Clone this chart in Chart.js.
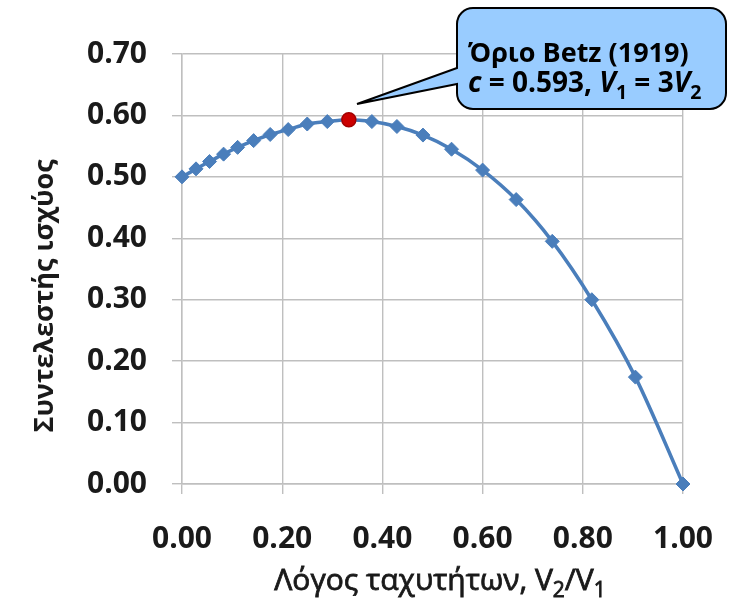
<!DOCTYPE html>
<html>
<head>
<meta charset="utf-8">
<script src="https://cdn.jsdelivr.net/npm/chart.js@4/dist/chart.umd.min.js"></script>
<style>
  body { margin: 0; background: #fff; }
  #wrap { width: 731px; height: 598px; position: relative; }
</style>
</head>
<body>
<div id="wrap"><canvas id="chart"></canvas></div>
<script>
// speed ratio V2/V1 and power coefficient
var ratio = [0, 0.028, 0.055, 0.083, 0.111, 0.143, 0.176, 0.212, 0.25, 0.29, 0.333,
             0.379, 0.429, 0.481, 0.538, 0.6, 0.667, 0.739, 0.818, 0.905, 1.0];
var power = [0.500, 0.513, 0.525, 0.537, 0.548, 0.559, 0.569, 0.577, 0.586, 0.590, 0.593,
             0.590, 0.582, 0.568, 0.545, 0.511, 0.463, 0.395, 0.300, 0.174, 0.000];
var betzX = [0.333];
var betzY = [0.593];
var xTicks = [0, 0.2, 0.4, 0.6, 0.8, 1.0];
var yTicks = [0, 0.1, 0.2, 0.3, 0.4, 0.5, 0.6, 0.7];

var FONT = '"Open Sans", "Noto Sans", sans-serif';
var GRID = '#bfbfbf';

function toPoints(xs, ys) {
    var out = [];
    for (var i = 0; i < xs.length; i++) out.push({x: xs[i], y: ys[i]});
    return out;
}

// draw a run list like [{t:'V', i:true}, {t:'1', sub:true}]
function richWidth(ctx, runs, size, weight) {
    var w = 0;
    runs.forEach(function(r) {
        var s = r.sub ? size * 0.7 : size;
        ctx.font = (r.i ? 'italic ' : '') + weight + ' ' + s + 'px ' + FONT;
        w += ctx.measureText(r.t).width;
    });
    return w;
}

function richText(ctx, runs, x, y, size, weight, stroke) {
    ctx.textAlign = 'left';
    ctx.textBaseline = 'alphabetic';
    runs.forEach(function(r) {
        var s = r.sub ? size * 0.7 : size;
        var yy = r.sub ? y + size * 0.24 : y;
        ctx.font = (r.i ? 'italic ' : '') + weight + ' ' + s + 'px ' + FONT;
        ctx.fillText(r.t, x, yy);
        if (stroke) ctx.strokeText(r.t, x, yy);
        x += ctx.measureText(r.t).width;
    });
}

var extras = {
    id: 'extras',
    afterDraw: function(chart) {
        var ctx = chart.ctx;
        ctx.save();
        ctx.fillStyle = '#1a1a1a';

        // y axis title
        ctx.save();
        ctx.translate(45, 296);
        ctx.rotate(-Math.PI / 2);
        ctx.font = 'bold 27px ' + FONT;
        ctx.textAlign = 'center';
        ctx.textBaseline = 'middle';
        ctx.fillText('Συντελεστής ισχύος', 0, 0);
        ctx.restore();

        // x axis title, slightly heavier than regular
        var xt = [{t: 'Λόγος ταχυτήτων, V'}, {t: '2', sub: true}, {t: '/V'}, {t: '1', sub: true}];
        var w = richWidth(ctx, xt, 30, 'normal');
        ctx.strokeStyle = '#1a1a1a';
        ctx.lineWidth = 0.8;
        richText(ctx, xt, 440 - w / 2, 590, 30, 'normal', true);

        // callout box with tail
        var bx = 457, by = 8, bw = 269, bh = 101, rr = 16;
        ctx.beginPath();
        ctx.moveTo(bx + rr, by);
        ctx.lineTo(bx + bw - rr, by);
        ctx.arcTo(bx + bw, by, bx + bw, by + rr, rr);
        ctx.lineTo(bx + bw, by + bh - rr);
        ctx.arcTo(bx + bw, by + bh, bx + bw - rr, by + bh, rr);
        ctx.lineTo(bx + rr, by + bh);
        ctx.arcTo(bx, by + bh, bx, by + bh - rr, rr);
        ctx.lineTo(bx, 84);
        ctx.lineTo(357, 104);
        ctx.lineTo(bx, 68);
        ctx.lineTo(bx, by + rr);
        ctx.arcTo(bx, by, bx + rr, by, rr);
        ctx.closePath();
        ctx.fillStyle = '#99ccff';
        ctx.fill();
        ctx.lineWidth = 2;
        ctx.strokeStyle = '#000';
        ctx.stroke();

        ctx.fillStyle = '#000';
        richText(ctx, [{t: 'Όριο Betz (1919)'}], 468, 62, 27, 'bold');
        richText(ctx, [{t: 'c', i: true}, {t: ' = 0.593, '}, {t: 'V', i: true}, {t: '1', sub: true},
                       {t: ' = 3'}, {t: 'V', i: true}, {t: '2', sub: true}], 468, 92, 28, 'bold');
        ctx.restore();
    }
};

new Chart(document.getElementById('chart'), {
    type: 'scatter',
    data: {
        datasets: [{
            data: toPoints(betzX, betzY),
            pointStyle: 'circle',
            pointRadius: 7,
            pointHoverRadius: 7,
            backgroundColor: '#cc0000',
            borderColor: '#a30000',
            borderWidth: 1.5,
            clip: false,
            order: 0
        }, {
            data: toPoints(ratio, power),
            showLine: true,
            cubicInterpolationMode: 'monotone',
            borderColor: '#4a7ebb',
            borderWidth: 3.5,
            pointStyle: 'rectRot',
            pointRadius: 7,
            pointHoverRadius: 7,
            pointBackgroundColor: '#4a7ebb',
            pointBorderColor: '#4a7ebb',
            pointBorderWidth: 1,
            clip: false,
            order: 1
        }]
    },
    options: {
        responsive: true,
        maintainAspectRatio: false,
        animation: false,
        layout: {padding: {left: 0, right: 48, top: 54, bottom: 0}},
        plugins: {legend: {display: false}, tooltip: {enabled: false}},
        scales: {
            x: {
                type: 'linear',
                min: 0, max: 1,
                afterFit: function(s) { s.height = 114; s.paddingLeft = 0; s.paddingRight = 0; },
                afterBuildTicks: function(s) { s.ticks = xTicks.map(function(v) { return {value: v}; }); },
                grid: {color: GRID, lineWidth: 1.4, tickLength: 10},
                border: {color: GRID, width: 1.4},
                ticks: {
                    padding: 27,
                    color: '#1a1a1a',
                    font: {family: FONT, size: 30, weight: 'bold'},
                    callback: function(v) { return v.toFixed(2); }
                }
            },
            y: {
                min: 0, max: 0.7,
                afterFit: function(s) { s.width = 182; s.paddingTop = 0; s.paddingBottom = 0; },
                afterBuildTicks: function(s) { s.ticks = yTicks.map(function(v) { return {value: v}; }); },
                grid: {color: GRID, lineWidth: 1.4, tickLength: 10},
                border: {color: GRID, width: 1.4},
                ticks: {
                    padding: 25,
                    color: '#1a1a1a',
                    font: {family: FONT, size: 30, weight: 'bold'},
                    callback: function(v) { return v.toFixed(2); }
                }
            }
        }
    },
    plugins: [extras]
});
</script>
</body>
</html>
